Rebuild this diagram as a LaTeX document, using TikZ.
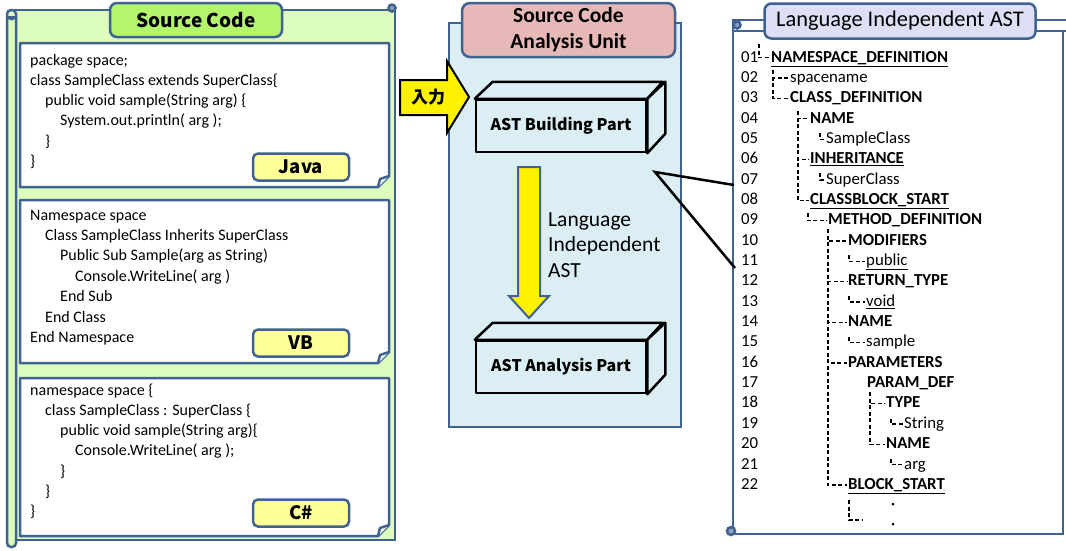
\documentclass[tikz,border=0pt]{standalone}
\usepackage{fontspec}
\setmainfont{Carlito}
\newfontfamily\jp{Noto Sans CJK JP}
\usetikzlibrary{calc}
\definecolor{bord}{HTML}{406291}
\definecolor{leftfill}{HTML}{DDFDBE}
\definecolor{titlegreen}{HTML}{B4F56E}
\definecolor{labyellow}{HTML}{FFFF99}
\definecolor{panelblue}{HTML}{DBEEF4}
\definecolor{pinkfill}{HTML}{E6B9B8}
\definecolor{lavender}{HTML}{DCDFF5}
\newcommand\myul[1]{\underline{#1}}
\tikzset{
  border/.style={draw=bord, line width=2.5pt},
  codeb/.style={draw=bord, line width=2.5pt, fill=white, line join=round},
  lab/.style={draw=bord, line width=2.5pt, fill=labyellow, rounded corners=5pt,
    minimum width=96pt, minimum height=27pt, inner sep=0pt,
    font=\jp\bfseries\fontsize{18.5}{18.5}\selectfont},
  codeline/.style={anchor=base west, inner sep=0pt, font=\fontsize{16}{18}\selectfont},
  box3d/.style={draw=black, line width=2.5pt, fill=panelblue, line join=round},
  tn/.style={anchor=base west, inner xsep=1pt, inner ysep=0pt, text height=12pt,
    text depth=3.5pt, font=\fontsize{16.8}{18}\selectfont},
  tnb/.style={tn, font=\bfseries\fontsize{16.8}{18}\selectfont},
  tree/.style={draw=black, line width=1.3pt, dash pattern=on 4pt off 2.5pt},
}
\begin{document}
\begin{tikzpicture}[x=1pt,y=-1pt]
\useasboundingbox (0,0) rectangle (1066,550);
\clip (0,0) rectangle (1066,550);
% ---------------- left scroll ----------------
\draw[border, fill=leftfill] (15,10) rectangle (395,540);
\draw[border, fill=leftfill, rounded corners=4pt] (7,10) rectangle (16,547);
\fill[bord] (7,16) arc (180:0:4.5) -- cycle;
\draw[border, fill=bord!60] (392,8) circle (3.5);
\node[draw=bord, line width=2.5pt, fill=titlegreen, rounded corners=7pt,
  minimum width=172pt, minimum height=34pt, inner sep=0pt,
  font=\jp\bfseries\fontsize{19}{19}\selectfont] (srctitle) at (196,20) {Source Code};
% code box 1 Java
\draw[codeb] (20,43) -- (389,43) -- (389,176) -- (378,187) -- (20,187) -- cycle;
\draw[codeb] (378,187) -- (380,179) -- (389,176);
\foreach \i/\x/\t in {0/30/package space;, 1/30/class SampleClass extends SuperClass\{,
  2/45/public void sample(String arg) \{, 3/60/System.out.println( arg );, 4/45/\}, 5/30/\}}
  \node[codeline] (j\i) at (\x,{65+\i*20.3}) {\t};
\node[lab] (java) at (301,167) {Java};
% code box 2 VB
\draw[codeb] (20,200) -- (389,200) -- (389,352) -- (378,363) -- (20,363) -- cycle;
\draw[codeb] (378,363) -- (380,355) -- (389,352);
\foreach \i/\x/\t in {0/30/Namespace space, 1/45/Class SampleClass Inherits SuperClass,
  2/60/Public Sub Sample(arg as String), 3/75/Console.WriteLine( arg ), 4/60/End Sub,
  5/45/End Class, 6/30/End Namespace}
  \node[codeline] (v\i) at (\x,{220+\i*20.4}) {\t};
\node[lab] (vb) at (301,343) {VB};
% code box 3 C#
\draw[codeb] (20,378) -- (389,378) -- (389,525) -- (378,536) -- (20,536) -- cycle;
\draw[codeb] (378,536) -- (380,528) -- (389,525);
\foreach \i/\x/\t in {0/30/namespace space \{, 1/45/class SampleClass : SuperClass \{,
  2/60/public void sample(String arg)\{, 3/75/Console.WriteLine( arg );, 4/60/\}, 5/45/\}, 6/30/\}}
  \node[codeline] (c\i) at (\x,{395+\i*20.3}) {\t};
\node[lab] (cs) at (301,513) {C\#};
% ---------------- middle ----------------
\draw[border, fill=panelblue] (449,23) rectangle (681,427);
\node[draw=bord, line width=2.5pt, fill=pinkfill, rounded corners=8pt,
  minimum width=213pt, minimum height=54pt, inner sep=0pt, align=center,
  font=\bfseries\fontsize{21.5}{26}\selectfont] (unit) at (568.5,30) {Source Code\\Analysis Unit};
% input arrow
\draw[draw=black, line width=2pt, fill=yellow, line join=miter]
  (400,80) -- (447,80) -- (447,61) -- (469,97) -- (447,133) -- (447,115) -- (400,115) -- cycle;
\node[font=\jp\bfseries\fontsize{17}{17}\selectfont, inner sep=0pt] (inp) at (428,97) {入力};
% 3D box 1
\node[box3d, minimum width=170pt, minimum height=52pt, inner sep=0pt,
  font=\jp\bfseries\fontsize{16}{16}\selectfont] (bb) at (561,126) {AST Building Part};
\draw[box3d] (bb.north west) -- ++(18,-17) -- ++(170,0) -- (bb.north east) -- cycle;
\draw[box3d] (bb.north east) -- ++(18,-17) -- ++(0,52) -- (bb.south east) -- cycle;
% 3D box 2
\node[box3d, minimum width=170pt, minimum height=52pt, inner sep=0pt,
  font=\jp\bfseries\fontsize{16}{16}\selectfont] (ba) at (561,367) {AST Analysis Part};
\draw[box3d] (ba.north west) -- ++(18,-17) -- ++(170,0) -- (ba.north east) -- cycle;
\draw[box3d] (ba.north east) -- ++(18,-17) -- ++(0,52) -- (ba.south east) -- cycle;
% down arrow
\draw[draw=bord, line width=2pt, fill=yellow]
  (518,167) -- (540,167) -- (540,296) -- (549,296) -- (529,318) -- (509,296) -- (518,296) -- cycle;
\node[anchor=base west, inner sep=0pt, align=left, font=\fontsize{21.5}{25.5}\selectfont]
  (lia) at (548,277) {Language\\Independent\\AST};
% callout
\coordinate (cp) at (655,172);
% ---------------- right scroll ----------------
\draw[border, fill=white] (733,26) rectangle (1063,534);
\draw[border, fill=white] (733,20) rectangle (1072,31);
\draw[border, fill=bord!60] (737,25) circle (3.5);
\draw[border, fill=bord!60] (731,531) circle (4);
\draw[black, line width=2.5pt, line join=miter] (734,185) -- (cp) -- (735,268);
\node[draw=bord, line width=2.5pt, fill=lavender, rounded corners=7pt,
  minimum width=271pt, minimum height=35pt, inner sep=0pt,
  font=\fontsize{22.4}{22.4}\selectfont] (asttitle) at (900,21) {Language Independent AST};
% numbers
\foreach \i in {1,...,22}
  \node[tn] (num\i) at (740,{62+(\i-1)*20.35}) {\ifnum\i<10 0\fi\i};
% tree nodes
\node[tnb] (t1) at (770,62) {\myul{NAMESPACE\_DEFINITION}};
\node[tn]  (t2) at (789,82.35) {spacename};
\node[tnb] (t3) at (789,102.7) {CLASS\_DEFINITION};
\node[tnb] (t4) at (809,123.05) {NAME};
\node[tn]  (t5) at (825,143.4) {SampleClass};
\node[tnb] (t6) at (809,163.75) {\myul{INHERITANCE}};
\node[tn]  (t7) at (825,184.1) {SuperClass};
\node[tnb] (t8) at (809,204.45) {\myul{CLASSBLOCK\_START}};
\node[tnb] (t9) at (827,224.8) {METHOD\_DEFINITION};
\node[tnb] (t10) at (847,245.15) {MODIFIERS};
\node[tn]  (t11) at (865,265.5) {\myul{public}};
\node[tnb] (t12) at (847,285.85) {RETURN\_TYPE};
\node[tn]  (t13) at (865,306.2) {\myul{void}};
\node[tnb] (t14) at (847,326.55) {NAME};
\node[tn]  (t15) at (865,346.9) {sample};
\node[tnb] (t16) at (847,367.25) {PARAMETERS};
\node[tnb] (t17) at (866,387.6) {PARAM\_DEF};
\node[tnb] (t18) at (885,407.95) {TYPE};
\node[tn]  (t19) at (903,428.3) {String};
\node[tnb] (t20) at (885,448.65) {NAME};
\node[tn]  (t21) at (903,469) {arg};
\node[tnb] (t22) at (847,489.35) {\myul{BLOCK\_START}};
% tree connectors
\draw[tree] (759,44) |- (t1.west);
\draw[tree] (773,70) |- (t2.west);
\draw[tree] (773,70) |- (t3.west);
\draw[tree] (798,111) |- (t4.west);
\draw[tree] (798,111) |- (t6.west);
\draw[tree] (798,111) |- (t8.west);
\draw[tree] (820,133) |- (t5.west);
\draw[tree] (820,173) |- (t7.west);
\draw[tree] (808,213) |- (t9.west);
\foreach \k in {10,12,14,16,22} \draw[tree] (828,229) |- (t\k.west);
\draw[tree] (849,255) |- (t11.west);
\draw[tree] (849,296) |- (t13.west);
\draw[tree] (849,337) |- (t15.west);
\draw[tree] (870,392) |- (t18.west);
\draw[tree] (870,392) |- (t20.west);
\draw[tree] (891,419) |- (t19.west);
\draw[tree] (891,459) |- (t21.west);
\coordinate (more) at (863,520);
\draw[tree] (849,500) |- (more);
\fill (893,504) circle (1.5);
\fill (893,524) circle (1.5);
\end{tikzpicture}
\end{document}
